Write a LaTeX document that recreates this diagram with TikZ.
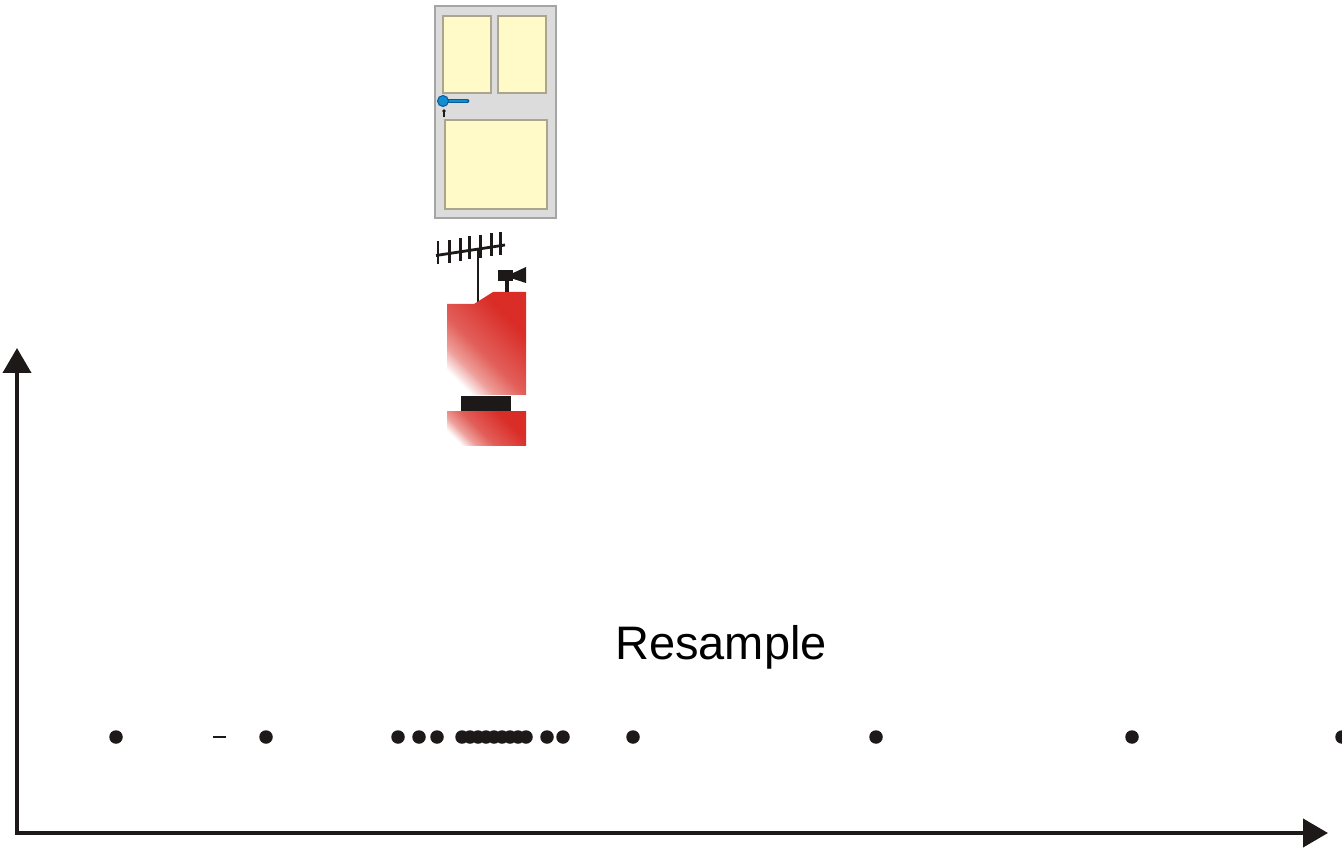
\documentclass[tikz,border=0pt]{standalone}
\usepackage{fontspec}
\setmainfont{Liberation Sans}
\usetikzlibrary{arrows.meta}
\definecolor{doorgray}{RGB}{220,220,220}
\definecolor{doorline}{RGB}{165,165,165}
\definecolor{panel}{RGB}{255,250,200}
\definecolor{panelline}{RGB}{170,165,140}
\definecolor{handle}{RGB}{20,140,210}
\definecolor{handleline}{RGB}{10,90,150}
\definecolor{devred}{RGB}{218,45,40}
\definecolor{devmid}{RGB}{226,95,90}
\definecolor{devpink}{RGB}{238,160,155}
\definecolor{ink}{RGB}{30,25,25}
% red fading to white towards one corner
\pgfdeclareverticalshading{redfade}{100bp}{
  color(0bp)=(white); color(24bp)=(white); color(33bp)=(devpink);
  color(45bp)=(devmid); color(68bp)=(devred); color(100bp)=(devred)}
\tikzset{
  sample/.style={circle,fill=ink,inner sep=0pt,minimum size=13.5pt*0.5},
  axis/.style={line width=2pt,draw=ink,{Triangle[length=12.5pt,width=14pt]}-{Triangle[length=12.5pt,width=14pt]}},
  pane/.style={fill=panel,draw=panelline,line width=0.6pt},
  redblock/.style={shading=redfade,shading angle=-45},
  aerial/.style={draw=ink,line width=1.4pt}
}
\begin{document}
\begin{tikzpicture}[x=0.5pt,y=-0.5pt]
\useasboundingbox (0,0) rectangle (1342,849);
\clip (0,0) rectangle (1342,849);

% door
\draw[fill=doorgray,draw=doorline,line width=0.7pt] (435,6) rectangle (556,218);
\draw[pane] (443,16) rectangle (491,93);
\draw[pane] (498,16) rectangle (546,93);
\draw[pane] (445,120) rectangle (547,209);
\draw[handleline,line width=2.4pt,line cap=round] (444,101) -- (467,101);
\draw[handle,line width=1.4pt,line cap=round] (444,101) -- (466.5,101);
\filldraw[fill=handle,draw=handleline,line width=0.5pt] (443,101) circle (5.5);
\fill[ink] (444,111) circle (1.8);
\fill[ink] (443.3,111) rectangle (444.7,117);

% transmitter with aerial and loudspeaker
\coordinate (boomL) at (436,255.5);
\coordinate (boomR) at (505,245);
\draw[aerial] (boomL) -- (boomR);
\foreach \t in {0.03,0.19,0.35,0.49,0.64,0.80,0.94}{
  \path (boomL) -- (boomR) coordinate[pos=\t] (cb);
  \draw[aerial] (cb) ++(0,-14) -- ++(0,23);
}
\draw[aerial] (478,249.2) -- (478,305);
\shade[redblock] (447,304) -- (474,304) -- (493,292) -- (526,292) -- (526,395) -- (447,395) -- cycle;
\fill[ink] (461,396) rectangle (511,412);
\shade[redblock] (447,412) rectangle (526,446);
\fill[ink] (505,280) rectangle (509,292);
\fill[ink] (498,270) rectangle (513,281);
\fill[ink] (512,273.5) -- (526,267) -- (526,283) -- (512,278.5) -- cycle;

% axes
\coordinate (ytop) at (17,348);
\coordinate (origin) at (17,833);
\coordinate (xend) at (1328,833);
\draw[axis] (ytop) -- (origin) -- (xend);

% label
\node[font=\fontsize{23.5pt}{28pt}\selectfont,anchor=base] (lbl) at (721,659) {Resample};

% resampled points
\foreach \x [count=\i] in {116,266,398,419,437,462,470,478,486,494,502,510,518,526,547,563,633,876,1132,1342}
  \node[sample] (s\i) at (\x,737) {};
\draw[ink,line width=1.2pt] (213,737) coordinate (d1) -- (226,737) coordinate (d2);
\end{tikzpicture}
\end{document}
